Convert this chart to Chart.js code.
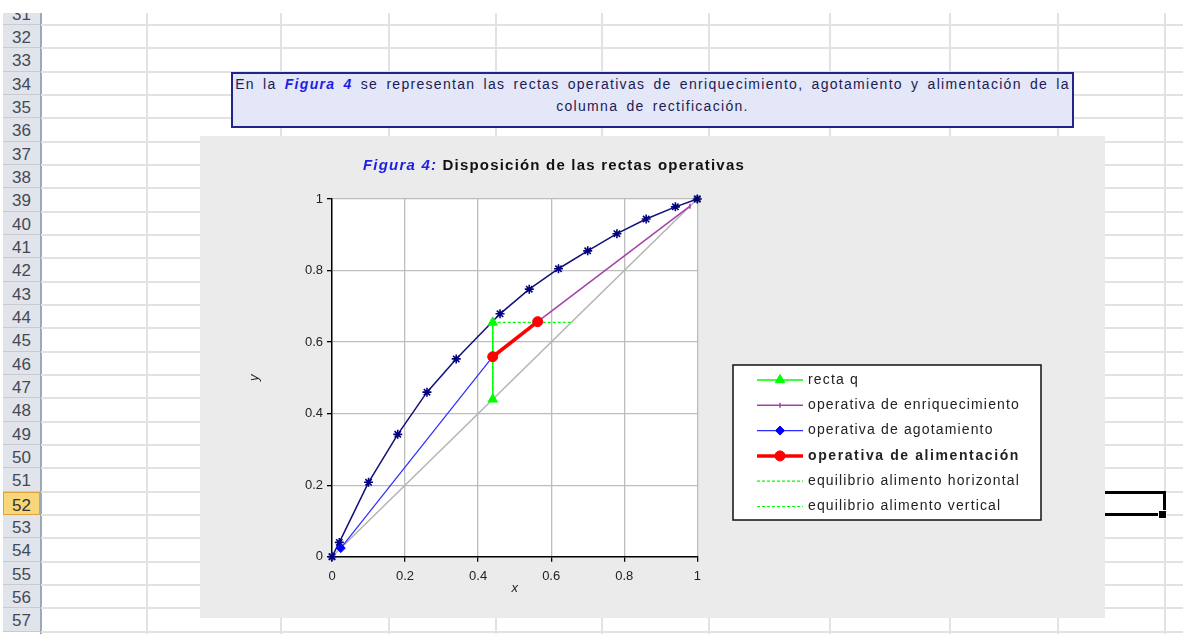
<!DOCTYPE html>
<html lang="es">
<head>
<meta charset="utf-8">
<title>Figura 4: Disposición de las rectas operativas</title>
<script src="https://cdn.jsdelivr.net/npm/chart.js@4.4.1/dist/chart.umd.min.js"></script>
<style>
  html, body { margin: 0; padding: 0; background: #fff; }
  body { width: 1183px; height: 634px; position: relative; overflow: hidden; font-family: "Liberation Sans", Arial, sans-serif; }
  #sheet { position: absolute; left: 0; top: 13px; width: 1183px; height: 621px; overflow: hidden; }
  .rh { position: absolute; left: 3px; width: 37px; height: 23.33px; box-sizing: border-box; padding-top: 2px;
        background: #e1e4ea; border-bottom: 1px solid #c8ccd2; color: #434a56; font-size: 17px; line-height: 22px; text-align: center; }
  .rh.sel { background: #f8d67a; border: 1px solid #e0a23a; color: #333; }
  .hdr-edge { position: absolute; left: 40px; top: 0; width: 1.5px; height: 621px; background: #9ea9b8; }
  .hl { position: absolute; left: 41px; width: 1142px; height: 2px; background: #e2e2e2; }
  .vl { position: absolute; top: 0; width: 2px; height: 621px; background: #e2e2e2; }
  #active { position: absolute; left: 1000px; top: 491px; width: 163px; height: 19px; border: 3px solid #000; border-left: none; }
  #handle { position: absolute; left: 1158px; top: 510px; width: 7px; height: 7px; background: #000; border: 1px solid #fff; }
  #note { position: absolute; left: 231px; top: 72px; width: 843px; height: 56px; box-sizing: border-box;
          border: 2px solid #23238c; background: #e4e7f7; text-align: center; font-size: 14px;
          letter-spacing: 1.3px; word-spacing: 3px;
          color: #1b1b55; line-height: 21.5px; white-space: nowrap; }
  #note i { color: #1e1ee6; font-weight: bold; }
  #chartBox { position: absolute; left: 200px; top: 136px; width: 905px; height: 482px; background: #ebebeb; }
</style>
</head>
<body>
<div id="sheet"><div class="hdr-edge"></div></div>
<div id="active"></div>
<div id="handle"></div>
<div id="note">En la <i>Figura 4</i> se representan las rectas operativas de enriquecimiento, agotamiento y alimentación de la<br>columna de rectificación.</div>
<div id="chartBox"><canvas id="fig4" width="905" height="482"></canvas></div>

<script>
// curva de equilibrio
const eqX = [0, 0.02, 0.1, 0.18, 0.26, 0.34, 0.46, 0.54, 0.62, 0.70, 0.78, 0.86, 0.94, 1];
const eqY = [0, 0.04, 0.208, 0.342, 0.46, 0.553, 0.679, 0.748, 0.805, 0.855, 0.903, 0.944, 0.978, 1];
// diagonal y = x
const diagX = [0, 1];
const diagY = [0, 1];
// recta q (alimento líquido saturado, vertical en xF)
const qX = [0.44, 0.44];
const qY = [0.44, 0.655];
// operativas
const enrX = [0.563, 0.98];
const enrY = [0.657, 0.98];
const agoX = [0.024, 0.44];
const agoY = [0.024, 0.559];
const aliX = [0.44, 0.563];
const aliY = [0.559, 0.657];
// equilibrio del alimento
const eqHorX = [0.44, 0.655];
const eqHorY = [0.655, 0.655];
const eqVerX = [0.44, 0.44];
const eqVerY = [0.44, 0.655];

const axisTicks = [0, 0.2, 0.4, 0.6, 0.8, 1];
const legendLabels = ['recta q', 'operativa de enriquecimiento', 'operativa de agotamiento',
  'operativa de alimentación', 'equilibrio alimento horizontal', 'equilibrio alimento vertical'];

// hoja de cálculo de fondo
const sheet = document.getElementById('sheet');
const colEdges = [147, 281, 389, 496, 602, 709, 830, 950, 1058, 1165];
const rowH = 23.333;
for (let r = 31; r <= 57; r++) {
  const top = 25 + (r - 32) * rowH - 13;
  const h = document.createElement('div');
  h.className = 'rh' + (r === 52 ? ' sel' : '');
  h.style.top = top + 'px';
  h.textContent = r;
  sheet.appendChild(h);
  const hl = document.createElement('div');
  hl.className = 'hl';
  hl.style.top = (top + rowH - 1) + 'px';
  sheet.appendChild(hl);
}
colEdges.forEach(x => {
  const vl = document.createElement('div');
  vl.className = 'vl';
  vl.style.left = (x - 1) + 'px';
  sheet.appendChild(vl);
});

const FONT = '"Liberation Sans", Arial, sans-serif';
const pts = (xs, ys) => xs.map((x, i) => ({ x: x, y: ys[i] }));

const plotBg = {
  id: 'plotBg',
  beforeDraw(chart) {
    const { ctx, chartArea: a } = chart;
    ctx.save();
    ctx.fillStyle = '#fff';
    ctx.fillRect(a.left, a.top, a.right - a.left, a.bottom - a.top);
    ctx.restore();
  }
};

const figTitle = {
  id: 'figTitle',
  afterDraw(chart) {
    const ctx = chart.ctx;
    ctx.save();
    ctx.letterSpacing = '1.2px';
    ctx.textBaseline = 'middle';
    let x = 163;
    ctx.font = 'italic bold 15px ' + FONT;
    ctx.fillStyle = '#1e1ee6';
    ctx.fillText('Figura 4:', x, 30);
    x += ctx.measureText('Figura 4: ').width;
    ctx.font = 'bold 15px ' + FONT;
    ctx.fillStyle = '#111';
    ctx.fillText('Disposición de las rectas operativas', x, 30);
    ctx.restore();
  }
};

const boxLegend = {
  id: 'boxLegend',
  afterDraw(chart) {
    const ctx = chart.ctx;
    const bx = 533, by = 229, bw = 308, bh = 155;
    ctx.save();
    ctx.fillStyle = '#fff';
    ctx.fillRect(bx, by, bw, bh);
    ctx.strokeStyle = '#111';
    ctx.lineWidth = 1.5;
    ctx.strokeRect(bx, by, bw, bh);
    legendLabels.forEach((label, i) => {
      const ds = chart.data.datasets.find(d => d.label === label);
      const y = by + 15 + i * 25.3;
      ctx.save();
      ctx.strokeStyle = ds.borderColor;
      ctx.lineWidth = ds.borderWidth;
      ctx.setLineDash(ds.borderDash || []);
      ctx.beginPath();
      ctx.moveTo(557, y);
      ctx.lineTo(603, y);
      ctx.stroke();
      ctx.setLineDash([]);
      if (ds.pointRadius > 0) {
        ctx.fillStyle = ds.pointBackgroundColor;
        ctx.strokeStyle = ds.pointBorderColor;
        ctx.lineWidth = ds.pointBorderWidth;
        Chart.helpers.drawPoint(ctx, {
          pointStyle: ds.pointStyle, rotation: ds.pointRotation || 0,
          radius: ds.pointRadius, borderWidth: ds.pointBorderWidth
        }, 580, y);
      }
      ctx.restore();
      const bold = label === 'operativa de alimentación';
      ctx.font = (bold ? 'bold ' : '') + '14px ' + FONT;
      ctx.letterSpacing = bold ? '1.6px' : '1.15px';
      ctx.fillStyle = '#222';
      ctx.textBaseline = 'middle';
      ctx.fillText(label, 608, y);
    });
    ctx.restore();
  }
};

const axisCommon = (titleText, isX) => ({
  type: 'linear',
  min: 0,
  max: 1,
  afterBuildTicks: s => { s.ticks = axisTicks.map(v => ({ value: v })); },
  afterFit: s => {
    if (isX) s.height = 40; else s.width = 85;
    s.paddingTop = 0; s.paddingBottom = 0; s.paddingLeft = 0; s.paddingRight = 0;
  },
  ticks: { font: { family: FONT, size: 13 }, color: '#222', padding: isX ? 7 : 4, callback: v => String(v) },
  grid: {
    color: c => (c.tick && c.tick.value === 0) ? 'rgba(0,0,0,0)' : '#bdbdbd',
    lineWidth: 1.3,
    tickLength: 5,
    tickColor: '#000'
  },
  border: { color: '#000', width: 1.5 },
  title: { display: true, text: titleText, color: '#222',
           font: { family: FONT, size: 13, style: 'italic' }, padding: { top: 0, bottom: 1 } }
});

new Chart(document.getElementById('fig4').getContext('2d'), {
  type: 'scatter',
  data: {
    datasets: [
      { label: 'operativa de alimentación', data: pts(aliX, aliY), order: 0,
        borderColor: '#ff0000', borderWidth: 3.5,
        pointStyle: 'circle', pointRadius: 5, pointBackgroundColor: '#ff0000', pointBorderColor: '#ff0000', pointBorderWidth: 1 },
      { label: 'recta q', data: pts(qX, qY), order: 1,
        borderColor: '#00ff00', borderWidth: 1.5,
        pointStyle: 'triangle', pointRadius: 5.5, pointBackgroundColor: '#00ff00', pointBorderColor: '#00ff00', pointBorderWidth: 1 },
      { label: 'equilibrio alimento horizontal', data: pts(eqHorX, eqHorY), order: 2,
        borderColor: '#00ff00', borderWidth: 1.2, borderDash: [3, 2], pointRadius: 0 },
      { label: 'equilibrio alimento vertical', data: pts(eqVerX, eqVerY), order: 2,
        borderColor: '#00ff00', borderWidth: 1.2, borderDash: [3, 2], pointRadius: 0 },
      { label: 'operativa de agotamiento', data: pts(agoX, agoY), order: 3,
        borderColor: '#2a2aff', borderWidth: 1.2,
        pointStyle: 'rectRot', pointRadius: 4.5, pointBackgroundColor: '#0000ff', pointBorderColor: '#0000ff', pointBorderWidth: 1 },
      { label: 'operativa de enriquecimiento', data: pts(enrX, enrY), order: 4,
        borderColor: '#a540a8', borderWidth: 1.5,
        pointStyle: 'line', pointRotation: 90, pointRadius: 2.5, pointBackgroundColor: '#a540a8', pointBorderColor: '#a540a8', pointBorderWidth: 1.5 },
      { label: 'curva de equilibrio', data: pts(eqX, eqY), order: 5,
        borderColor: '#10107a', borderWidth: 1.5,
        pointStyle: 'star', pointRadius: 4.5, pointBackgroundColor: '#000080', pointBorderColor: '#000080', pointBorderWidth: 1.6 },
      { label: 'diagonal', data: pts(diagX, diagY), order: 6,
        borderColor: '#b4b4b4', borderWidth: 1.5,
        pointStyle: 'rect', pointRadius: 4, pointBackgroundColor: '#d4d4d4', pointBorderColor: '#808080', pointBorderWidth: 1.2 }
    ]
  },
  options: {
    responsive: false,
    devicePixelRatio: 1,
    animation: false,
    events: [],
    datasets: { scatter: { showLine: true, tension: 0, clip: false } },
    layout: { padding: { left: 47, top: 63, right: 407.7, bottom: 21.3 } },
    plugins: { legend: { display: false }, tooltip: { enabled: false }, title: { display: false } },
    scales: {
      x: axisCommon('x', true),
      y: axisCommon('y', false)
    }
  },
  plugins: [plotBg, figTitle, boxLegend]
});
</script>
</body>
</html>
